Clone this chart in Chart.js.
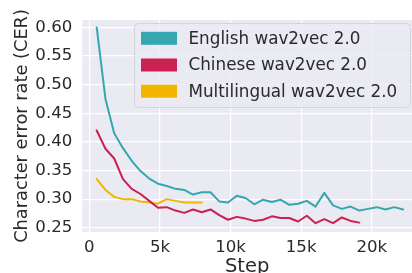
<!DOCTYPE html>
<html>
<head>
<meta charset="utf-8">
<script src="https://cdn.jsdelivr.net/npm/chart.js@4"></script>
<style>
  html, body { margin: 0; padding: 0; background: #fff; overflow: hidden; }
  #wrap { width: 412px; height: 273px; }
</style>
</head>
<body>
<div id="wrap"><canvas id="c" width="412" height="273"></canvas></div>
<script>
// values
const steps = [520, 1140, 1760, 2380, 3000, 3620, 4240, 4860, 5480, 6100, 6720, 7340,
    7960, 8580, 9200, 9820, 10440, 11060, 11680, 12300, 12920, 13540, 14160, 14780,
    15400, 16020, 16640, 17260, 17880, 18500, 19120, 19740, 20360, 20980, 21600, 22220];

const english = [0.600, 0.475, 0.415, 0.389, 0.367, 0.349, 0.336, 0.327, 0.323, 0.318, 0.316, 0.308,
    0.312, 0.312, 0.296, 0.294, 0.306, 0.302, 0.291, 0.299, 0.295, 0.299, 0.290, 0.292,
    0.297, 0.287, 0.311, 0.289, 0.283, 0.287, 0.280, 0.283, 0.286, 0.282, 0.286, 0.282];

const chinese = [0.420, 0.388, 0.371, 0.335, 0.318, 0.309, 0.297, 0.285, 0.286, 0.280, 0.276, 0.282,
    0.277, 0.282, 0.272, 0.264, 0.269, 0.266, 0.262, 0.264, 0.270, 0.267, 0.267, 0.261,
    0.271, 0.258, 0.265, 0.258, 0.268, 0.262, 0.259];

const multilingual = [0.335, 0.316, 0.304, 0.300, 0.300, 0.296, 0.294, 0.292, 0.300, 0.297, 0.294, 0.294, 0.294];

const seriesNames = ["English wav2vec 2.0", "Chinese wav2vec 2.0", "Multilingual wav2vec 2.0"];
const xTicks = [0, 5000, 10000, 15000, 20000];
const yTicks = [0.25, 0.30, 0.35, 0.40, 0.45, 0.50, 0.55, 0.60];

const colors = ["#35a7af", "#cb2150", "#f2b600"];
const textColor = "#2a2a2a";

Chart.defaults.font.family = "'DejaVu Sans', sans-serif";
Chart.defaults.color = textColor;

function toPoints(values) {
    return values.map((v, i) => ({x: steps[i], y: v}));
}

const bgPlugin = {
    id: "bg",
    beforeDraw(chart) {
        const {ctx, chartArea: a} = chart;
        ctx.save();
        ctx.fillStyle = "#ffffff";
        ctx.fillRect(0, 0, chart.width, chart.height);
        ctx.fillStyle = "#eaeaf2";
        ctx.fillRect(a.left, a.top, a.right - a.left, a.bottom - a.top);
        ctx.restore();
    }
};

// matplotlib style legend box inside the plot
const legendPlugin = {
    id: "boxLegend",
    afterDraw(chart) {
        const ctx = chart.ctx;
        const bx = 134.5, by = 23.5, bw = 276, bh = 84;
        ctx.save();
        ctx.beginPath();
        ctx.roundRect(bx, by, bw, bh, 4);
        ctx.fillStyle = "rgba(234, 234, 242, 0.8)";
        ctx.fill();
        ctx.strokeStyle = "#d4d4dc";
        ctx.lineWidth = 1;
        ctx.stroke();

        const rows = [38.3, 65, 91.2];
        ctx.font = "16.8px 'DejaVu Sans'";
        ctx.textBaseline = "middle";
        chart.data.datasets.forEach((ds, i) => {
            ctx.fillStyle = ds.borderColor;
            ctx.fillRect(141, rows[i] - 6.5, 36, 13);
            ctx.fillStyle = textColor;
            ctx.fillText(ds.label, 188.5, rows[i] + 1);
        });
        ctx.restore();
    }
};

new Chart(document.getElementById("c"), {
    type: "line",
    data: {
        datasets: [
            {label: seriesNames[0], data: toPoints(english), borderColor: colors[0]},
            {label: seriesNames[1], data: toPoints(chinese), borderColor: colors[1]},
            {label: seriesNames[2], data: toPoints(multilingual), borderColor: colors[2]},
        ]
    },
    options: {
        responsive: false,
        animation: false,
        layout: {padding: {left: 0, right: 0, top: 15.7, bottom: 0}},
        elements: {
            line: {borderWidth: 2, tension: 0, borderCapStyle: "round", borderJoinStyle: "round"},
            point: {radius: 0}
        },
        plugins: {legend: {display: false}, tooltip: {enabled: false}},
        scales: {
            x: {
                type: "linear",
                min: -500,
                max: 22850,
                afterBuildTicks: (s) => { s.ticks = xTicks.map(v => ({value: v})); },
                afterFit: (s) => { s.height = 41; },
                ticks: {
                    padding: 6,
                    font: {size: 16.6},
                    color: textColor,
                    maxRotation: 0,
                    callback: (v) => v === 0 ? "0" : (v / 1000) + "k"
                },
                grid: {color: "#ffffff", lineWidth: 1.2, drawTicks: false},
                border: {display: false},
                title: {display: true, text: "Step", font: {size: 19.5}, color: textColor, padding: {top: 0, bottom: -6}}
            },
            y: {
                min: 0.2426,
                max: 0.613,
                afterBuildTicks: (s) => { s.ticks = yTicks.map(v => ({value: v})); },
                afterFit: (s) => { s.width = 82.3; },
                ticks: {
                    padding: 10,
                    font: {size: 16.6},
                    color: textColor,
                    callback: (v) => v.toFixed(2)
                },
                grid: {color: "#ffffff", lineWidth: 1.2, drawTicks: false},
                border: {display: false},
                title: {display: true, text: "Character error rate (CER)", font: {size: 17.8}, color: textColor, padding: {top: 12, bottom: 0}}
            }
        }
    },
    plugins: [bgPlugin, legendPlugin]
});
</script>
</body>
</html>
